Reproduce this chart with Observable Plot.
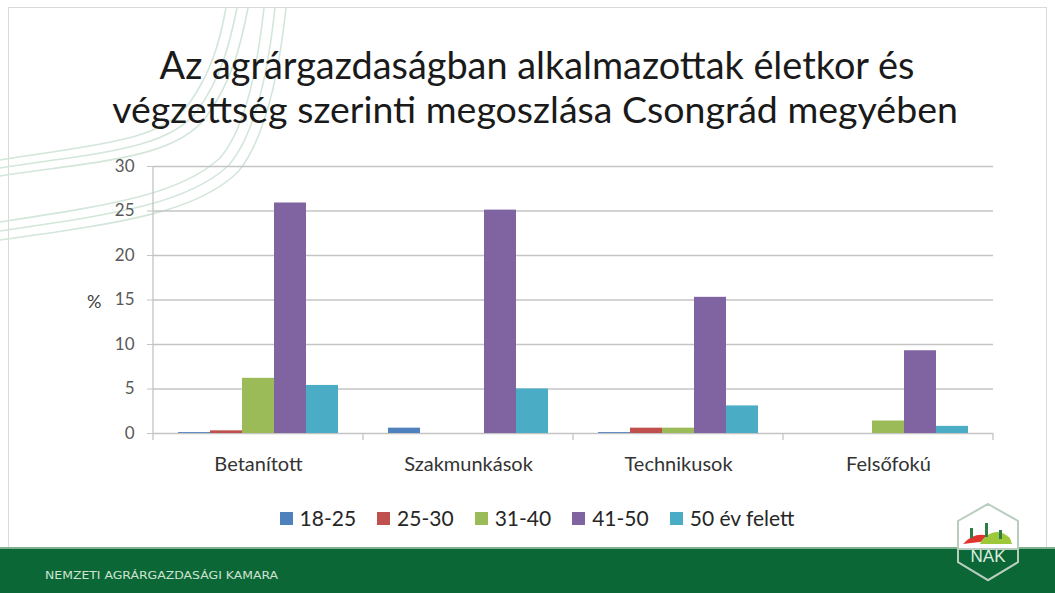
<!DOCTYPE html>
<html>
<head>
<meta charset="utf-8">
<script src="https://cdn.jsdelivr.net/npm/d3@7"></script>
<script src="https://cdn.jsdelivr.net/npm/@observablehq/plot@0.6"></script>
<style>
  html, body { margin: 0; padding: 0; background: #fff; }
  #slide { position: relative; width: 1055px; height: 593px; overflow: hidden; background: #fff; font-family: Lato, "Open Sans", sans-serif; }
  #bg, #fg { position: absolute; left: 0; top: 0; }
  #chart { position: absolute; left: 0; top: 150px; }
  #legend { position: absolute; left: 0; width: 1074px; top: 505px; height: 26px; line-height: 26px; display: flex; justify-content: center; gap: 21px; font-size: 21px; color: #262626; }
  #legend .item { display: flex; align-items: center; gap: 7px; }
  #legend .sw { width: 13px; height: 13px; display: inline-block; }
  #pct { position: absolute; left: 87px; top: 290px; font-size: 18px; color: #404040; }
</style>
</head>
<body>
<div id="slide">
  <svg id="bg" width="1055" height="593">
    <rect x="8.5" y="7.5" width="1038" height="560" fill="none" stroke="#d9d9d9"/>
    <g fill="none" stroke="#d3e6da" stroke-width="1.6">
      <path d="M0,160 C90,145 160,142 188,105 C212,72 220,40 226,8"/>
      <path d="M0,168 C95,153 168,150 197,111 C222,77 230,42 237,8"/>
      <path d="M0,176 C100,161 176,158 206,117 C232,82 241,44 248,8"/>
      <path d="M0,222 C110,205 180,195 220,158 C248,125 258,60 264,8"/>
      <path d="M0,231 C115,214 188,204 229,165 C258,130 269,62 275,8"/>
      <path d="M0,240 C120,223 196,213 238,172 C268,135 280,64 286,8"/>
    </g>
    <rect x="0" y="547" width="1055" height="2" fill="#7fb08f"/>
    <rect x="0" y="549" width="1055" height="44" fill="#0b6836"/>
    <text x="45" y="579" fill="#cfe3d2" font-family="'Liberation Sans Narrow', 'DejaVu Sans Condensed', sans-serif" font-size="10.5" textLength="233" lengthAdjust="spacingAndGlyphs">NEMZETI AGRÁRGAZDASÁGI KAMARA</text>
  </svg>
  <div id="chart"></div>
  <div id="pct">%</div>
  <div id="legend"></div>
  <svg id="fg" width="1055" height="593">
    <text id="t1" x="537" y="79" text-anchor="middle" fill="#1a1a1a" font-family="Lato, 'Open Sans', sans-serif" font-size="36">Az agrárgazdaságban alkalmazottak életkor és</text>
    <text id="t2" x="535" y="123" text-anchor="middle" fill="#1a1a1a" font-family="Lato, 'Open Sans', sans-serif" font-size="36">végzettség szerinti megoszlása Csongrád megyében</text>
    <g id="logo">
      <path d="M988,504 L1018,521 L1018,562 L988,580 L958,562 L958,521 Z" fill="#ffffff" stroke="#b9cdbf" stroke-width="2"/>
      <path d="M963,544 Q978,528 996,540 Z" fill="#e0342f"/>
      <path d="M982,540 Q996,525 1010,538 L1012,544 L980,544 Z" fill="#9cc83a"/>
      <rect x="985" y="523" width="3" height="14" fill="#2e7d45"/>
      <rect x="970" y="528" width="3" height="10" fill="#2e7d45"/>
      <rect x="999" y="530" width="3" height="9" fill="#2e7d45"/>
      <path d="M958,549 L1018,549 L1018,562 L988,580 L958,562 Z" fill="#0b6836" stroke="#b9cdbf" stroke-width="2"/>
      <text x="988" y="562" text-anchor="middle" fill="#dfeee2" font-family="'Liberation Sans Narrow', sans-serif" font-size="17">NAK</text>
    </g>
  </svg>
</div>
<script>
const categories = ["Betanított", "Szakmunkások", "Technikusok", "Felsőfokú"];
const ageGroups = ["18-25", "25-30", "31-40", "41-50", "50 év felett"];
const v18_25 = [0.1, 0.6, 0.1, 0];
const v25_30 = [0.3, 0, 0.6, 0];
const v31_40 = [6.2, 0, 0.6, 1.4];
const v41_50 = [25.9, 25.1, 15.3, 9.3];
const v50plus = [5.4, 5.0, 3.1, 0.8];
const yTicks = [0, 5, 10, 15, 20, 25, 30];
const colors = ["#4F81BD", "#C0504D", "#9BBB59", "#8064A2", "#4BACC6"];

const series = [v18_25, v25_30, v31_40, v41_50, v50plus];
const data = [];
categories.forEach((c, i) => ageGroups.forEach((a, j) => data.push({cat: c, age: a, value: series[j][i]})));

const plot = Plot.plot({
  width: 1055,
  height: 330,
  marginLeft: 152,
  marginRight: 62,
  marginTop: 16,
  marginBottom: 47,
  style: {background: "transparent", fontFamily: "Lato, 'Open Sans', sans-serif"},
  fx: {domain: categories, padding: 0, label: null},
  x: {domain: ageGroups, paddingInner: 0, paddingOuter: 0.76, axis: null},
  y: {domain: [0, 30], label: null},
  color: {domain: ageGroups, range: colors},
  marks: [
    Plot.gridY(yTicks, {stroke: "#c4c4c4", strokeOpacity: 1, strokeWidth: 1.3}),
    Plot.axisY(yTicks, {tickSize: 6, tickPadding: 13, stroke: "#c4c4c4", fontSize: 17, color: "#595959", label: null}),
    Plot.axisFx({anchor: "bottom", tickSize: 0, tickPadding: 23, fontSize: 20, color: "#333333", label: null}),
    Plot.barY(data, {fx: "cat", x: "age", y: "value", fill: "age"})
  ]
});
document.getElementById("chart").appendChild(plot);

// left axis line and category boundary ticks, positioned from the plot's own scales
const fx = plot.scale("fx");
const ys = plot.scale("y");
const svg = d3.select(plot);
const y0 = ys.apply(0), yTop = ys.apply(30);
const g = svg.append("g").attr("stroke", "#c4c4c4").attr("stroke-width", 1.3);
const bounds = categories.map(c => fx.apply(c));
bounds.push(fx.apply(categories[categories.length - 1]) + fx.bandwidth);
g.append("line").attr("x1", bounds[0]).attr("x2", bounds[0]).attr("y1", yTop).attr("y2", y0 + 7);
bounds.slice(1).forEach(b => g.append("line").attr("x1", b).attr("x2", b).attr("y1", y0).attr("y2", y0 + 7));

// legend
const legend = d3.select("#legend");
ageGroups.forEach((a, i) => {
  const it = legend.append("div").attr("class", "item");
  it.append("span").attr("class", "sw").style("background", colors[i]);
  it.append("span").text(a);
});

// fit title lines to reference widths
const fit = (id, w) => { const t = document.getElementById(id); const bw = t.getComputedTextLength(); t.setAttribute("font-size", 36 * w / bw); };
fit("t1", 755);
fit("t2", 846);
</script>
</body>
</html>
